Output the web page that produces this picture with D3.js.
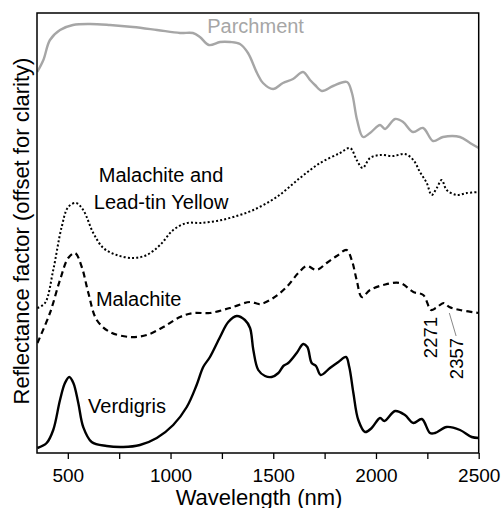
<!DOCTYPE html>
<html><head><meta charset="utf-8">
<script src="https://cdn.jsdelivr.net/npm/d3@7"></script>
<style>body{margin:0;background:#fff}svg{display:block}text{font-family:"Liberation Sans",Arial,sans-serif}</style>
</head><body><svg id="c" width="504" height="508"></svg>
<script>
// Wavelength (nm) and reflectance factor (arbitrary units, offset for clarity)
const parchmentWl = [351,381,413,462,525,608,705,817,934,1046,1109,1143,1187,1241,1290,1338,1377,1421,1450,1499,1547,1596,1645,1679,1703,1737,1791,1859,1883,1908,1937,1971,2020,2044,2093,2132,2180,2229,2278,2326,2409,2458,2500];
const parchmentR  = [381,393,413,423,428,429,428,426,423,420,420,416,408,411,411,409,400,380,370,364,370,374,381,373,368,362,367,371,360,333,316,320,328,324,334,331,321,325,312,316,316,310,305];

const malLtyWl = [352,389,429,470,502,540,575,624,673,738,819,884,949,1013,1079,1143,1225,1305,1403,1517,1630,1728,1825,1874,1906,1935,1971,2020,2084,2141,2182,2214,2247,2271,2296,2320,2344,2393,2442,2500];
const malLtyR  = [145,150,183,226,246,250,243,220,205,198,195,198,208,223,230,230,232,236,243,256,275,290,300,305,293,285,295,298,297,299,293,281,270,258,265,273,263,258,260,261];

const malachiteWl = [352,413,462,502,535,568,600,641,705,803,884,965,1046,1111,1192,1289,1387,1436,1500,1565,1622,1663,1711,1760,1809,1857,1882,1906,1931,1971,2036,2117,2182,2230,2268,2292,2330,2357,2409,2500];
const malachiteR  = [110,140,173,195,200,186,160,133,121,116,118,126,136,140,140,145,151,149,155,166,180,187,183,190,197,203,193,173,156,163,168,170,161,158,143,145,150,146,143,140];

const verdigrisWl = [352,397,429,462,486,507,527,551,575,616,689,770,851,933,1013,1079,1127,1159,1192,1241,1281,1322,1362,1387,1403,1427,1460,1492,1525,1549,1573,1614,1646,1666,1687,1708,1731,1776,1817,1854,1870,1890,1914,1947,1979,2020,2041,2093,2141,2182,2223,2263,2287,2344,2409,2466,2500];
const verdigrisR  = [5,10,23,53,70,76,70,50,26,11,7,6,8,15,28,46,68,86,96,116,131,137,133,125,103,83,77,76,80,87,90,100,109,106,90,87,78,85,91,96,86,60,33,21,25,35,32,42,38,30,34,20,20,26,23,16,15];

const seriesNames = ["Parchment","Malachite and Lead-tin Yellow","Malachite","Verdigris"];
const xTicks = [500,750,1000,1250,1500,1750,2000,2250,2500];
const xTickLabels = [500,1000,1500,2000,2500];
const bandLabels = [2271,2357];

const svg = d3.select("#c");
const m = {l:37, r:478.7, t:13, b:453};
const x = d3.scaleLinear().domain([350,2500]).range([m.l,m.r]);
const y = d3.scaleLinear().domain([0,440]).range([m.b,m.t]);

const line = d3.line().x(d=>x(d[0])).y(d=>y(d[1])).curve(d3.curveCatmullRom.alpha(0.5));
const zip = (a,b)=>a.map((v,i)=>[v,b[i]]);

const series = [
  {wl:parchmentWl, r:parchmentR, color:"#a6a6a6", dash:null, w:2.4},
  {wl:malLtyWl, r:malLtyR, color:"#000", dash:"2,2.2", w:2},
  {wl:malachiteWl, r:malachiteR, color:"#000", dash:"6,4", w:2.2},
  {wl:verdigrisWl, r:verdigrisR, color:"#000", dash:null, w:2.4}
];
const g = svg.append("g");
g.append("defs").append("clipPath").attr("id","cp").append("rect")
  .attr("x",m.l).attr("y",m.t).attr("width",m.r-m.l).attr("height",m.b-m.t);
series.forEach(s=>{
  g.append("path").attr("clip-path","url(#cp)").attr("d",line(zip(s.wl,s.r)))
   .attr("fill","none").attr("stroke",s.color).attr("stroke-width",s.w)
   .attr("stroke-dasharray",s.dash).attr("stroke-linejoin","round");
});

// frame
svg.append("rect").attr("x",m.l).attr("y",m.t).attr("width",m.r-m.l).attr("height",m.b-m.t)
  .attr("fill","none").attr("stroke","#000").attr("stroke-width",1.5);

// x axis
const ax = svg.append("g").attr("transform",`translate(0,${m.b})`)
  .call(d3.axisBottom(x).tickValues(xTicks).tickSize(6).tickSizeOuter(0)
    .tickFormat(d=>xTickLabels.includes(d)?d:""));
ax.select(".domain").remove();
ax.selectAll(".tick line").attr("stroke","#000").attr("stroke-width",1.3);
ax.selectAll(".tick text").attr("font-size",19).attr("fill","#000").attr("dy",null).attr("y",29)
  .attr("font-family","Liberation Sans, Arial, sans-serif");

svg.append("text").attr("x",259).attr("y",504.5).attr("text-anchor","middle")
  .attr("font-size",22).text("Wavelength (nm)");
svg.append("text").attr("transform","translate(29,231) rotate(-90)").attr("text-anchor","middle")
  .attr("font-size",22).text("Reflectance factor (offset for clarity)");

// series labels
const lab = (t,xv,yv,col)=>svg.append("text").attr("x",x(xv)).attr("y",y(yv)).attr("text-anchor","middle")
  .attr("font-size",20).attr("fill",col||"#000").text(t);
lab(seriesNames[0],1414,420,"#a6a6a6");
lab("Malachite and",954,271);
lab("Lead-tin Yellow",954,244);
lab(seriesNames[2],845,147);
lab(seriesNames[3],788,40);

// band annotations
svg.append("line").attr("x1",x(bandLabels[1])).attr("y1",y(140)).attr("x2",x(2390)).attr("y2",y(117))
  .attr("stroke","#888").attr("stroke-width",1);
svg.append("text").attr("transform",`translate(${x(bandLabels[0])+5},${y(136)}) rotate(-90)`)
  .attr("text-anchor","end").attr("font-size",18.5).text(bandLabels[0]);
svg.append("text").attr("transform",`translate(${x(bandLabels[1])+14},${y(115)}) rotate(-90)`)
  .attr("text-anchor","end").attr("font-size",18.5).text(bandLabels[1]);
</script></body></html>
